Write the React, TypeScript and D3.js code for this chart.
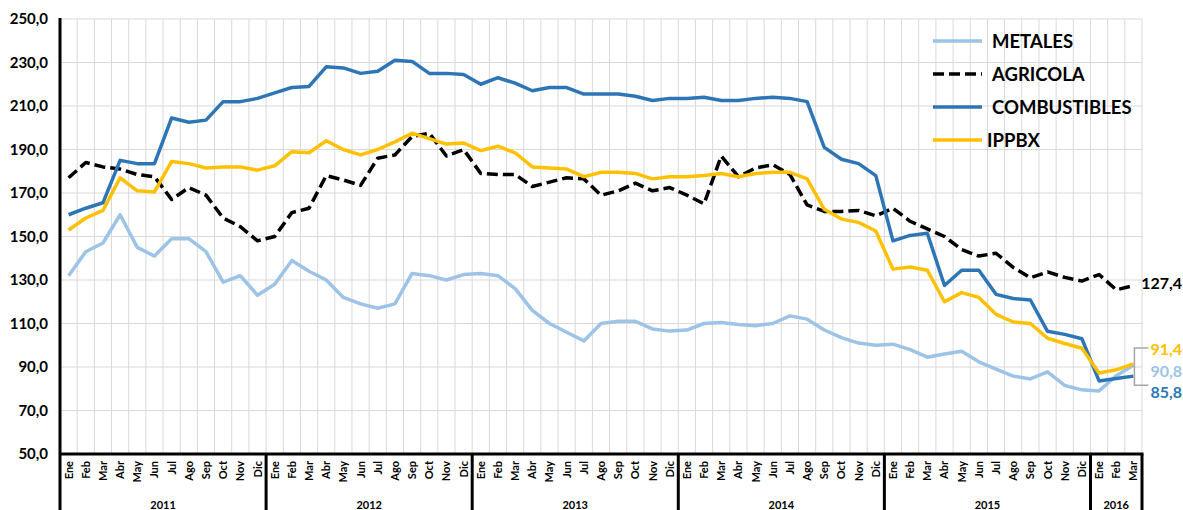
import React, { useRef, useEffect } from "react";
import * as d3 from "d3";

const years = ["2011", "2012", "2013", "2014", "2015", "2016"];
const monthNames = ["Ene", "Feb", "Mar", "Abr", "May", "Jun", "Jul", "Ago", "Sep", "Oct", "Nov", "Dic"];
const monthsPerYear = [12, 12, 12, 12, 12, 3];

const metales = [
  132, 143, 147, 160, 145, 141, 149, 149, 143, 129, 132, 123,
  128, 139, 134, 130, 122, 119, 117, 119, 133, 132, 130, 132.5,
  133, 132, 126, 116, 110, 106, 102, 110, 111, 111, 107.5, 106.5,
  107, 110, 110.5, 109.5, 109, 110, 113.5, 112, 107, 103.5, 101, 100,
  100.5, 98, 94.5, 96, 97.2, 92.4, 89, 85.8, 84.5, 87.8, 81.5, 79.5,
  79, 86, 90.8,
];
const agricola = [
  177, 184, 182, 181, 178.5, 177.5, 167, 172.5, 169, 158.5, 154.5, 148,
  150, 161, 163, 178, 176, 173.5, 186, 187.5, 196, 197.5, 187, 190,
  179, 178.5, 178.5, 173, 175, 177, 176.5, 169, 171, 174.5, 171, 172.5,
  169, 165, 187, 177.5, 181.5, 183, 178.5, 164.5, 161.5, 161.5, 162, 159.5,
  163, 157, 153.5, 150, 144, 141, 142.3, 135.8, 131, 133.7, 131.2, 129.5,
  132.5, 125.5, 127.4,
];
const combustibles = [
  160, 163, 165.5, 185, 183.5, 183.5, 204.5, 202.5, 203.5, 212, 212, 213.5,
  216, 218.5, 219, 228, 227.5, 225, 226, 231, 230.5, 225, 225, 224.5,
  220, 223, 220.5, 217, 218.5, 218.5, 215.5, 215.5, 215.5, 214.5, 212.5, 213.5,
  213.5, 214, 212.5, 212.5, 213.5, 214, 213.5, 212, 191, 185.5, 183.5, 178,
  148, 150.5, 151.5, 127.5, 134.5, 134.5, 123.4, 121.5, 120.8, 106.4, 105, 103,
  83.6, 84.7, 85.8,
];
const ippbx = [
  153, 158.5, 162, 177, 171, 170.5, 184.5, 183.5, 181.5, 182, 182, 180.5,
  182.5, 189, 188.5, 194, 190, 187.5, 190, 193.5, 197.5, 195, 192.5, 193,
  189.5, 191.5, 188.5, 182, 181.5, 181, 177.5, 179.5, 179.5, 179, 176.5, 177.5,
  177.5, 178, 179, 177.5, 179, 179.5, 179.5, 176.5, 162.5, 158, 156.5, 152.5,
  135, 136, 134.5, 120, 124.2, 122, 114.2, 110.7, 110, 103.2, 100.8, 98.6,
  87.2, 88.7, 91.4,
];

const yTicks = [50, 70, 90, 110, 130, 150, 170, 190, 210, 230, 250];

const series = [
  { name: "METALES", values: metales, color: "#9DC3E6", dash: null },
  { name: "AGRICOLA", values: agricola, color: "#000000", dash: "11,5" },
  { name: "COMBUSTIBLES", values: combustibles, color: "#2E75B6", dash: null },
  { name: "IPPBX", values: ippbx, color: "#FFC000", dash: null },
];

const W = 1183;
const H = 510;
const FONT = "Lato, 'Open Sans', sans-serif";

const App = () => {
  const svgRef = useRef<SVGSVGElement>(null);

  useEffect(() => {
    const margin = { top: 19, right: 41, bottom: 56, left: 60 };
    const svg = d3.select(svgRef.current);
    svg.selectAll("*").remove();

    const categories: { year: string; month: string; key: number }[] = [];
    years.forEach((y, yi) => {
      for (let m = 0; m < monthsPerYear[yi]; m++) {
        categories.push({ year: y, month: monthNames[m], key: categories.length });
      }
    });

    const x = d3
      .scaleBand<number>()
      .domain(categories.map(c => c.key))
      .range([margin.left, W - margin.right])
      .padding(0);
    const bw = x.bandwidth();
    const cx = (i: number) => (x(i) as number) + bw / 2;

    const y = d3
      .scaleLinear()
      .domain([50, 250])
      .range([H - margin.bottom, margin.top]);

    const x0 = margin.left;
    const x1 = W - margin.right;
    const yBottom = y(50);

    // grid
    const grid = svg.append("g").attr("stroke", "#d9d9d9").attr("stroke-width", 1);
    yTicks.forEach(t => {
      grid.append("line").attr("x1", x0).attr("x2", x1).attr("y1", y(t)).attr("y2", y(t));
    });
    categories.forEach(c => {
      const xx = (x(c.key) as number) + bw;
      grid.append("line").attr("x1", xx).attr("x2", xx).attr("y1", y(250)).attr("y2", yBottom);
    });

    // y labels
    svg
      .append("g")
      .selectAll("text")
      .data(yTicks)
      .join("text")
      .attr("x", 48)
      .attr("y", d => y(d) + 5)
      .attr("text-anchor", "end")
      .attr("font-family", FONT)
      .attr("font-weight", "bold")
      .attr("font-size", 15)
      .text(d => d3.format(".1f")(d).replace(".", ","));

    // lines
    const line = d3
      .line<number>()
      .x((d, i) => cx(i))
      .y(d => y(d));

    series.forEach(s => {
      svg
        .append("path")
        .datum(s.values)
        .attr("fill", "none")
        .attr("stroke", s.color)
        .attr("stroke-width", 3.5)
        .attr("stroke-linejoin", "round")
        .attr("stroke-dasharray", s.dash)
        .attr("d", line);
    });

    // x axis: month labels
    svg
      .append("g")
      .selectAll("text")
      .data(categories)
      .join("text")
      .attr("transform", d => `translate(${cx(d.key) + 4},${yBottom + 7}) rotate(-90)`)
      .attr("text-anchor", "end")
      .attr("font-family", FONT)
      .attr("font-weight", "bold")
      .attr("font-size", 11)
      .text(d => d.month);

    // year labels and separators
    let start = 0;
    const yearG = svg.append("g");
    years.forEach((yr, yi) => {
      const end = start + monthsPerYear[yi] - 1;
      const xa = x(start) as number;
      const xb = (x(end) as number) + bw;
      yearG
        .append("text")
        .attr("x", (xa + xb) / 2)
        .attr("y", 509)
        .attr("text-anchor", "middle")
        .attr("font-family", FONT)
        .attr("font-weight", "bold")
        .attr("font-size", 11)
        .text(yr);
      yearG
        .append("line")
        .attr("x1", xb)
        .attr("x2", xb)
        .attr("y1", yBottom)
        .attr("y2", H)
        .attr("stroke", "#000")
        .attr("stroke-width", 3);
      start = end + 1;
    });

    // axes lines
    svg
      .append("line")
      .attr("x1", x0)
      .attr("x2", x1 + 1.5)
      .attr("y1", yBottom)
      .attr("y2", yBottom)
      .attr("stroke", "#000")
      .attr("stroke-width", 3);
    svg
      .append("line")
      .attr("x1", x0)
      .attr("x2", x0)
      .attr("y1", y(250) - 1)
      .attr("y2", H)
      .attr("stroke", "#000")
      .attr("stroke-width", 3);

    // end labels
    const last = categories.length - 1;
    const endLabels = [
      { text: "127,4", color: "#000000", y: 289 },
      { text: "91,4", color: "#FFC000", y: 355 },
      { text: "90,8", color: "#9DC3E6", y: 377 },
      { text: "85,8", color: "#2E75B6", y: 398 },
    ];
    svg
      .append("path")
      .attr("d", `M${cx(last) + 15},${y(91.4) - 16} H${cx(last) + 1} V${y(85.8) + 9} H${cx(last) + 15}`)
      .attr("fill", "none")
      .attr("stroke", "#a6a6a6")
      .attr("stroke-width", 1.5);
    svg
      .append("g")
      .selectAll("text")
      .data(endLabels)
      .join("text")
      .attr("x", 1182)
      .attr("y", d => d.y)
      .attr("text-anchor", "end")
      .attr("fill", d => d.color)
      .attr("font-family", FONT)
      .attr("font-weight", "bold")
      .attr("font-size", 16)
      .text(d => d.text);

    // legend
    const legendRows = [41, 74, 107, 140];
    const lg = svg.append("g");
    series.forEach((s, i) => {
      lg.append("line")
        .attr("x1", 933)
        .attr("x2", 982)
        .attr("y1", legendRows[i])
        .attr("y2", legendRows[i])
        .attr("stroke", s.color)
        .attr("stroke-width", 3.5)
        .attr("stroke-dasharray", s.dash);
      lg.append("text")
        .attr("x", s.name === "IPPBX" ? 987 : 992)
        .attr("y", legendRows[i] + 7)
        .attr("font-family", FONT)
        .attr("font-weight", "bold")
        .attr("font-size", 18.5)
        .text(s.name);
    });
  }, []);

  return (
    <svg
      ref={svgRef}
      width={W}
      height={H}
      style={{ position: "absolute", left: 0, top: 0, background: "#fff" }}
    />
  );
};

export default App;
